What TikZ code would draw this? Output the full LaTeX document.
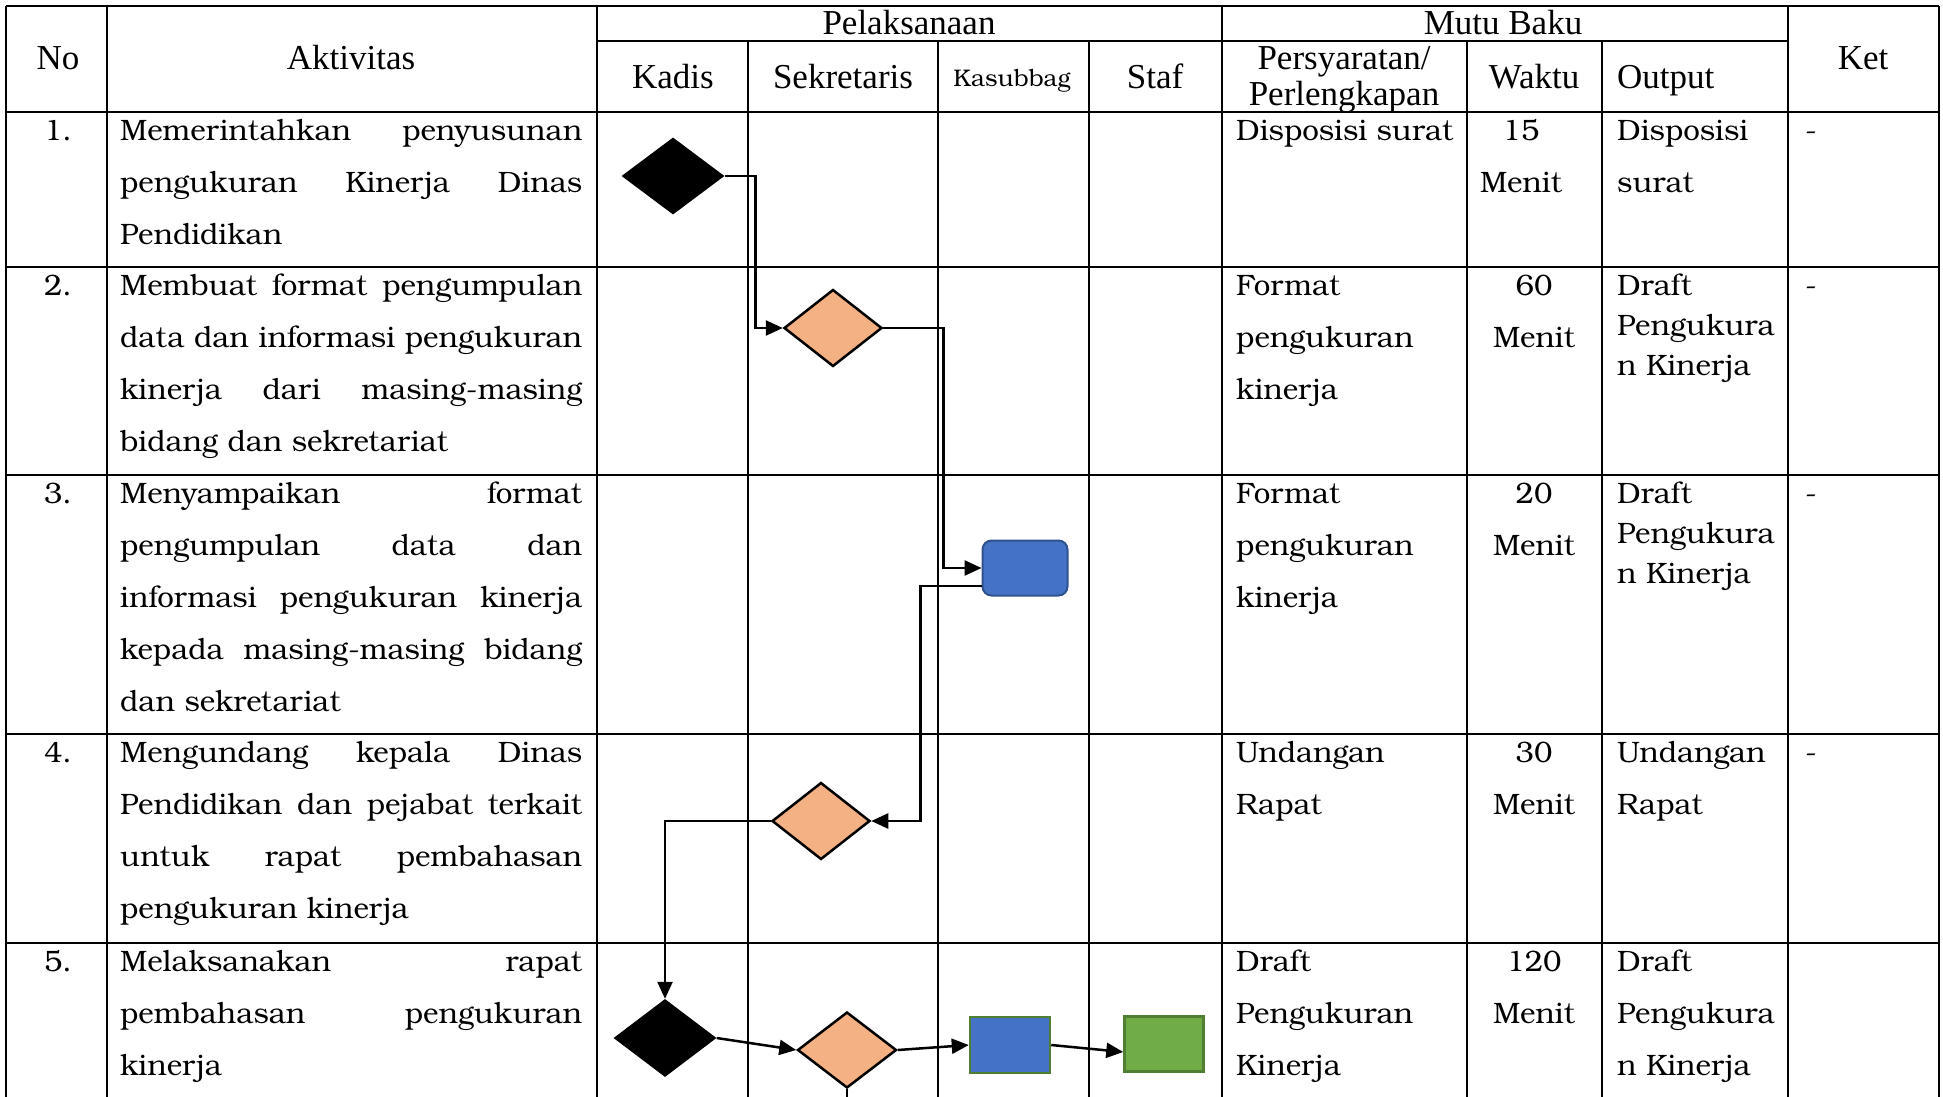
\documentclass[tikz,border=0pt]{standalone}
\usepackage{fontspec}
\setmainfont{Liberation Serif}
\newfontfamily\bonum{texgyrebonum-regular.otf}
\usetikzlibrary{shapes.geometric,arrows.meta}

\definecolor{peach}{HTML}{F4B183}
\definecolor{boxblue}{HTML}{4472C4}
\definecolor{boxblueline}{HTML}{2F528F}
\definecolor{boxgreen}{HTML}{70AD47}
\definecolor{boxgreenline}{HTML}{507E32}

% one justified line of the Aktivitas column
\newcommand{\jl}[1]{\makebox[462pt][s]{#1}}

\tikzset{
  rule/.style={line width=2.5pt},
  head/.style={font=\fontsize{35}{36}\selectfont,inner sep=0pt,align=center},
  body/.style={font=\bonum\fontsize{29.5}{52}\selectfont,inner sep=0pt,align=left},
  tight/.style={font=\bonum\fontsize{29.5}{40}\selectfont},
  flow/.style={line width=2.5pt,-{Triangle[length=17pt,width=15pt]}},
  kadis/.style={diamond,fill=black,inner sep=0pt,minimum width=103pt,minimum height=77pt},
  sekr/.style={diamond,draw=black,line width=2.5pt,fill=peach,inner sep=0pt,minimum width=98pt,minimum height=77pt},
}

\begin{document}
\begin{tikzpicture}[x=1pt,y=-1pt]
  \useasboundingbox (0,0) rectangle (1943,1097);

  % table grid
  \draw[rule] (6,6) -- (1939,6);
  \draw[rule] (597,41) -- (1788,41);
  \foreach \y in {112,267,475,734,943}
    \draw[rule] (6,\y) -- (1939,\y);
  \foreach \x in {6,107,597,1222,1788,1939}
    \draw[rule] (\x,6) -- (\x,1097);
  \foreach \x in {748,938,1089,1467,1602}
    \draw[rule] (\x,41) -- (\x,1097);

  % header (base = last line)
  \node[head,anchor=base] (hno)   at (58,70)   {No};
  \node[head,anchor=base] (hakt)  at (351,70)  {Aktivitas};
  \node[head,anchor=base] (hpel)  at (909,35)  {Pelaksanaan};
  \node[head,anchor=base] (hmutu) at (1503,35) {Mutu Baku};
  \node[head,anchor=base] (hket)  at (1863,70) {Ket};
  \node[head,anchor=base] (hkad)  at (673,89)  {Kadis};
  \node[head,anchor=base] (hsek)  at (843,89)  {Sekretaris};
  \node[head,anchor=base,font=\bonum\fontsize{24}{24}\selectfont] (hkas) at (1012,87) {Kasubbag};
  \node[head,anchor=base] (hstaf) at (1155,89) {Staf};
  \node[head,anchor=base] (hsyar) at (1344,106) {Persyaratan/\\Perlengkapan};
  \node[head,anchor=base] (hwak)  at (1534,89) {Waktu};
  \node[head,anchor=base west] (hout) at (1617,89) {Output};

  % row 1
  \node[body,anchor=base] (n1) at (58,140) {1.};
  \node[body,anchor=base west] (a1) at (120,244)
    {\jl{Memerintahkan penyusunan}\\\jl{pengukuran Kinerja Dinas}\\Pendidikan};
  \node[body,anchor=base west] (p1) at (1236,140) {Disposisi surat};
  \node[body,align=center,anchor=base] (w1) at (1521,192) {15\\Menit};
  \node[body,anchor=base west] (o1) at (1617,192) {Disposisi\\surat};
  \node[body,anchor=base west] (k1) at (1805,140) {-};

  % row 2
  \node[body,anchor=base] (n2) at (58,295) {2.};
  \node[body,anchor=base west] (a2) at (120,451)
    {\jl{Membuat format pengumpulan}\\\jl{data dan informasi pengukuran}\\\jl{kinerja dari masing-masing}\\bidang dan sekretariat};
  \node[body,anchor=base west] (p2) at (1236,399) {Format\\pengukuran\\kinerja};
  \node[body,align=center,anchor=base] (w2) at (1534,347) {60\\Menit};
  \node[body,tight,anchor=base west] (o2) at (1617,375) {Draft\\Pengukura\\n Kinerja};
  \node[body,anchor=base west] (k2) at (1805,295) {-};

  % row 3
  \node[body,anchor=base] (n3) at (58,503) {3.};
  \node[body,anchor=base west] (a3) at (120,711)
    {\jl{Menyampaikan format}\\\jl{pengumpulan data dan}\\\jl{informasi pengukuran kinerja}\\\jl{kepada masing-masing bidang}\\dan sekretariat};
  \node[body,anchor=base west] (p3) at (1236,607) {Format\\pengukuran\\kinerja};
  \node[body,align=center,anchor=base] (w3) at (1534,555) {20\\Menit};
  \node[body,tight,anchor=base west] (o3) at (1617,583) {Draft\\Pengukura\\n Kinerja};
  \node[body,anchor=base west] (k3) at (1805,503) {-};

  % row 4
  \node[body,anchor=base] (n4) at (58,762) {4.};
  \node[body,anchor=base west] (a4) at (120,918)
    {\jl{Mengundang kepala Dinas}\\\jl{Pendidikan dan pejabat terkait}\\\jl{untuk rapat pembahasan}\\pengukuran kinerja};
  \node[body,anchor=base west] (p4) at (1236,814) {Undangan\\Rapat};
  \node[body,align=center,anchor=base] (w4) at (1534,814) {30\\Menit};
  \node[body,anchor=base west] (o4) at (1617,814) {Undangan\\Rapat};
  \node[body,anchor=base west] (k4) at (1805,762) {-};

  % row 5
  \node[body,anchor=base] (n5) at (58,971) {5.};
  \node[body,anchor=base west] (a5) at (120,1075)
    {\jl{Melaksanakan rapat}\\\jl{pembahasan pengukuran}\\kinerja};
  \node[body,anchor=base west] (p5) at (1236,1075) {Draft\\Pengukuran\\Kinerja};
  \node[body,align=center,anchor=base] (w5) at (1534,1023) {120\\Menit};
  \node[body,anchor=base west] (o5) at (1617,1075) {Draft\\Pengukura\\n Kinerja};

  % flow symbols
  \node[kadis] (d1) at (673,176) {};
  \node[sekr] (d2) at (833,328) {};
  \node[draw=boxblueline,fill=boxblue,line width=2pt,rounded corners=9pt,
        minimum width=85pt,minimum height=55pt] (b3) at (1025,568) {};
  \node[sekr] (d4) at (821,821) {};
  \node[kadis,minimum height=78pt] (d5) at (665,1038) {};
  \node[sekr,minimum width=99pt,minimum height=76pt] (d6) at (847,1050) {};
  \node[draw=boxgreenline,fill=boxblue,line width=2.5pt,
        minimum width=80pt,minimum height=56pt] (b5) at (1010,1045) {};
  \node[draw=boxgreenline,fill=boxgreen,line width=2.5pt,
        minimum width=79pt,minimum height=55pt] (g5) at (1164,1044) {};

  % connectors
  \draw[flow] (d1.east) -- ++(31,0) |- (d2.west);
  \draw[flow] (d2.east) -- ++(60,0) |- (b3.west);
  \draw[flow] ([yshift=-18pt]b3.west) -- ++(-61,0) |- (d4.east);
  \draw[flow] (d4.west) -| (d5.north);
  \draw[flow] (d5.east) -- (d6.west);
  \draw[flow] (d6.east) -- (b5.west);
  \draw[flow] (b5.east) -- ([yshift=-8pt]g5.west);
  \coordinate (end) at (847,1097);
  \draw[rule] (d6.south) -- (end);
\end{tikzpicture}
\end{document}
